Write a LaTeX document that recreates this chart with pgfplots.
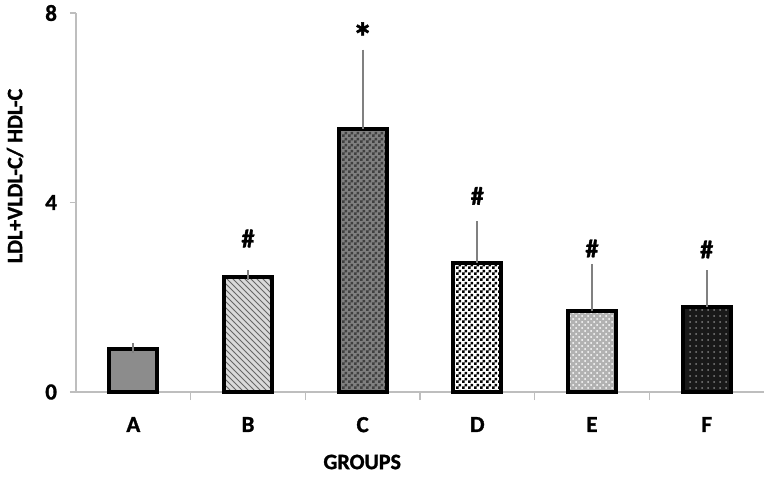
\documentclass[border=0pt]{standalone}
\usepackage{fontspec}
\setmainfont{Carlito}[BoldFeatures={FakeBold=1.2}]
\usepackage{pgfplots}
\pgfplotsset{compat=1.18}
\usetikzlibrary{patterns}

% small checker, 1.5pt cells
\pgfdeclarepatternformonly{smallchecker}{\pgfqpoint{0pt}{0pt}}{\pgfqpoint{3pt}{3pt}}{\pgfqpoint{3pt}{3pt}}{%
  \pgfpathrectangle{\pgfqpoint{0pt}{0pt}}{\pgfqpoint{1.5pt}{1.5pt}}%
  \pgfpathrectangle{\pgfqpoint{1.5pt}{1.5pt}}{\pgfqpoint{1.5pt}{1.5pt}}%
  \pgfusepath{fill}}

\definecolor{axisgray}{RGB}{190,190,190}
\definecolor{errgray}{RGB}{128,128,128}

\pgfplotsset{
  mybar/.style={
    ybar, bar width=24pt, bar shift=0pt,
    draw=black, line width=2pt,
    error bars/y dir=plus, error bars/y explicit,
    error bars/error bar style={errgray, line width=1pt},
    error bars/error mark options={errgray, line width=1pt, mark size=2.5pt},
  },
}

\begin{document}
\begin{tikzpicture}
\begin{axis}[
  at={(0,0)}, anchor=south west,
  scale only axis, width=344pt, height=189.5pt,
  xmin=-0.5, xmax=5.5, ymin=0, ymax=8,
  axis lines=left,
  axis line style={-, axisgray, line width=0.8pt},
  xtick={0,...,5}, xticklabels={A,B,C,D,E,F},
  minor x tick num=1,
  major x tick style={draw=none},
  minor x tick style={axisgray, line width=0.8pt},
  ytick={0,4,8},
  y tick style={axisgray, line width=0.8pt},
  tick align=outside,
  major tick length=3pt, minor tick length=4pt,
  tick label style={font=\bfseries\fontsize{11.5}{13}\selectfont},
  /pgf/number format/assume math mode=true,
  yticklabel style={xshift=-3pt},
  xticklabel style={yshift=-6pt},
  label style={font=\bfseries\fontsize{11}{13}\selectfont},
  xlabel={GROUPS},
  xlabel style={at={(axis description cs:0.416,0)}, anchor=center, yshift=-35pt},
  ylabel={LDL+VLDL-C/ HDL-C},
  ylabel style={at={(axis description cs:-0.0887,0.57)}, anchor=center},
  clip=false,
]
\addplot[mybar, fill=black!45] coordinates {(0,0.90) +- (0,0.03)};
\addplot[mybar, fill=black!15, postaction={pattern=north west lines, pattern color=black!60}] coordinates {(1,2.42) +- (0,0.04)};
\addplot[mybar, fill=black!50, postaction={pattern=smallchecker, pattern color=black!75}] coordinates {(2,5.56) +- (0,1.56)};
\addplot[mybar, fill=white, postaction={pattern=smallchecker, pattern color=black}] coordinates {(3,2.72) +- (0,0.78)};
\addplot[mybar, fill=black!30, postaction={pattern=crosshatch dots, pattern color=white}] coordinates {(4,1.70) +- (0,0.90)};
\addplot[mybar, fill=black!90, postaction={pattern=dots, pattern color=black!50}] coordinates {(5,1.80) +- (0,0.66)};

% significance marks
\addplot[only marks, mark=none, nodes near coords, point meta=explicit symbolic,
  nodes near coords style={anchor=center, font=\bfseries\fontsize{13}{15}\selectfont}]
  table[meta=t] {
  x y t
  1 3.24 \#
  3 4.14 \#
  4 3.03 \#
  5 3.01 \#
};
\addplot[only marks, mark=none, nodes near coords, point meta=explicit symbolic,
  nodes near coords style={anchor=center, font=\bfseries\fontsize{20}{22}\selectfont}]
  table[meta=t] {
  x y t
  2 7.50 *
};
\end{axis}
\pgfresetboundingbox
\path (-38pt,-43pt) rectangle (345.5pt,196pt);
\end{tikzpicture}
\end{document}
